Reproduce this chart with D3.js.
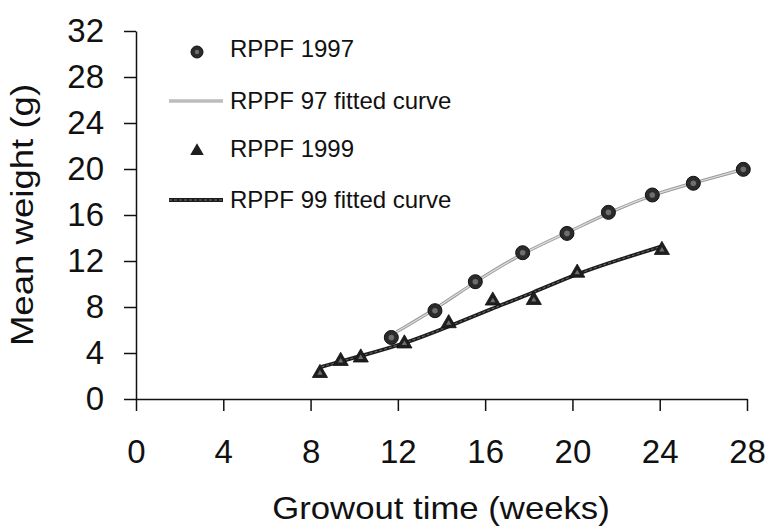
<!DOCTYPE html>
<html>
<head>
<meta charset="utf-8">
<script src="https://cdn.jsdelivr.net/npm/d3@7"></script>
<style>
  body { margin: 0; background: #fff; }
  text { font-family: "Liberation Sans", Arial, sans-serif; fill: #111; }
</style>
</head>
<body>
<div id="chart"></div>
<script>
// observed means (weeks of growout, mean weight in g)
const weeks97 = [11.7, 13.7, 15.55, 17.72, 19.75, 21.65, 23.66, 25.54, 27.83];
const weight97 = [5.35, 7.68, 10.2, 12.72, 14.4, 16.23, 17.74, 18.76, 19.97];
const weeks99 = [8.43, 9.38, 10.3, 12.3, 14.33, 16.35, 18.23, 20.22, 24.1];
const weight99 = [2.25, 3.3, 3.6, 4.82, 6.58, 8.55, 8.6, 10.97, 12.95];

// fitted curves
const fitWeeks97 = [11.95, 13.67, 15.5, 17.7, 19.75, 21.65, 23.66, 25.54, 27.83];
const fitWeight97 = [5.85, 7.75, 10.15, 12.7, 14.45, 16.2, 17.78, 18.78, 19.97];
const fitWeeks99 = [8.5, 10.3, 12.3, 14.33, 16.3, 18.2, 20.2, 22.1, 24.05];
const fitWeight99 = [2.8, 3.75, 4.8, 6.3, 7.85, 9.25, 10.9, 12.1, 13.25];

const xTicks = [0, 4, 8, 12, 16, 20, 24, 28];
const yTicks = [0, 4, 8, 12, 16, 20, 24, 28, 32];

const legendLabels = ['RPPF 1997', 'RPPF 97 fitted curve', 'RPPF 1999', 'RPPF 99 fitted curve'];

const width = 769;
const height = 528;
const margin = {top: 31, right: 22, bottom: 129, left: 136};

const svg = d3.select('#chart')
    .append('svg')
    .attr('width', width)
    .attr('height', height);

const x = d3.scaleLinear()
    .domain([0, 28])
    .range([margin.left, width - margin.right]);
const y = d3.scaleLinear()
    .domain([0, 32])
    .range([height - margin.bottom, margin.top]);

// axes
const yAxis = svg.append('g')
    .attr('transform', 'translate(' + margin.left + ',0)')
    .call(d3.axisLeft(y).tickValues(yTicks).tickSize(12).tickSizeOuter(0).tickPadding(20));
const xAxis = svg.append('g')
    .attr('transform', 'translate(0,' + (height - margin.bottom) + ')')
    .call(d3.axisBottom(x).tickValues(xTicks).tickSize(12).tickSizeOuter(0).tickPadding(29));

[xAxis, yAxis].forEach((g) => {
  g.selectAll('path, line').attr('stroke', '#111').attr('stroke-width', 1.5);
  g.selectAll('text')
      .attr('font-size', 33)
      .attr('fill', '#111')
      .style('font-family', '"Liberation Sans", Arial, sans-serif');
});

// axis titles
svg.append('text')
    .attr('transform', 'translate(441,519) scale(1.12,1)')
    .attr('text-anchor', 'middle')
    .attr('font-size', 31)
    .text('Growout time (weeks)');
svg.append('text')
    .attr('transform', 'translate(33,215) rotate(-90) scale(1.18,1)')
    .attr('text-anchor', 'middle')
    .attr('font-size', 31)
    .text('Mean weight (g)');

// fitted curves
const zip = (xs, ys) => xs.map((d, i) => [d, ys[i]]);
const line = d3.line()
    .x((d) => x(d[0]))
    .y((d) => y(d[1]))
    .curve(d3.curveBasis);

const drawFit97 = (g, d) => {
  g.append('path').attr('d', d).attr('fill', 'none')
      .attr('stroke', '#9a9a9a').attr('stroke-width', 3.2);
  g.append('path').attr('d', d).attr('fill', 'none')
      .attr('stroke', '#dedede').attr('stroke-width', 1.2);
};
const drawFit99 = (g, d) => {
  g.append('path').attr('d', d).attr('fill', 'none')
      .attr('stroke', '#1c1c1c').attr('stroke-width', 3.8);
  g.append('path').attr('d', d).attr('fill', 'none')
      .attr('stroke', '#707070').attr('stroke-width', 1)
      .attr('stroke-dasharray', '3,2');
};

drawFit97(svg.append('g'), line(zip(fitWeeks97, fitWeight97)));
drawFit99(svg.append('g'), line(zip(fitWeeks99, fitWeight99)));

// observed points
const circleMark = (g) => {
  g.append('circle').attr('r', 7).attr('fill', '#2b2b2b').attr('stroke', '#111').attr('stroke-width', 1);
  g.append('circle').attr('r', 2.8).attr('fill', '#6e6e6e');
};
const triangle = d3.symbol().type(d3.symbolTriangle).size(100);
const triangleMark = (g) => {
  g.append('path').attr('d', triangle).attr('fill', '#1e1e1e').attr('stroke', '#111').attr('stroke-width', 0.8);
  g.append('path').attr('d', d3.symbol().type(d3.symbolTriangle).size(12)).attr('fill', '#6e6e6e');
};

svg.append('g').selectAll('g')
    .data(zip(weeks99, weight99))
    .join('g')
    .attr('transform', (d) => 'translate(' + x(d[0]) + ',' + y(d[1]) + ')')
    .each(function() {
      triangleMark(d3.select(this));
    });

svg.append('g').selectAll('g')
    .data(zip(weeks97, weight97))
    .join('g')
    .attr('transform', (d) => 'translate(' + x(d[0]) + ',' + y(d[1]) + ')')
    .each(function() {
      circleMark(d3.select(this));
    });

// legend
const legendRows = [48, 100, 148, 199];
const legend = svg.append('g');
legendLabels.forEach((label, i) => {
  const row = legend.append('g').attr('transform', 'translate(0,' + legendRows[i] + ')');
  if (i === 0) {
    const m = row.append('g').attr('transform', 'translate(197,4)');
    m.append('circle').attr('r', 6).attr('fill', '#2b2b2b').attr('stroke', '#111');
    m.append('circle').attr('r', 2.2).attr('fill', '#6e6e6e');
  } else if (i === 2) {
    const m = row.append('g').attr('transform', 'translate(197,3)');
    m.append('path').attr('d', d3.symbol().type(d3.symbolTriangle).size(80)).attr('fill', '#1e1e1e');
  } else {
    const d = 'M169,1H223';
    if (i === 1) drawFit97(row, d);
    else drawFit99(row, d);
  }
  row.append('text')
      .attr('x', 230)
      .attr('y', 9)
      .attr('font-size', 24)
      .text(label);
});
</script>
</body>
</html>
